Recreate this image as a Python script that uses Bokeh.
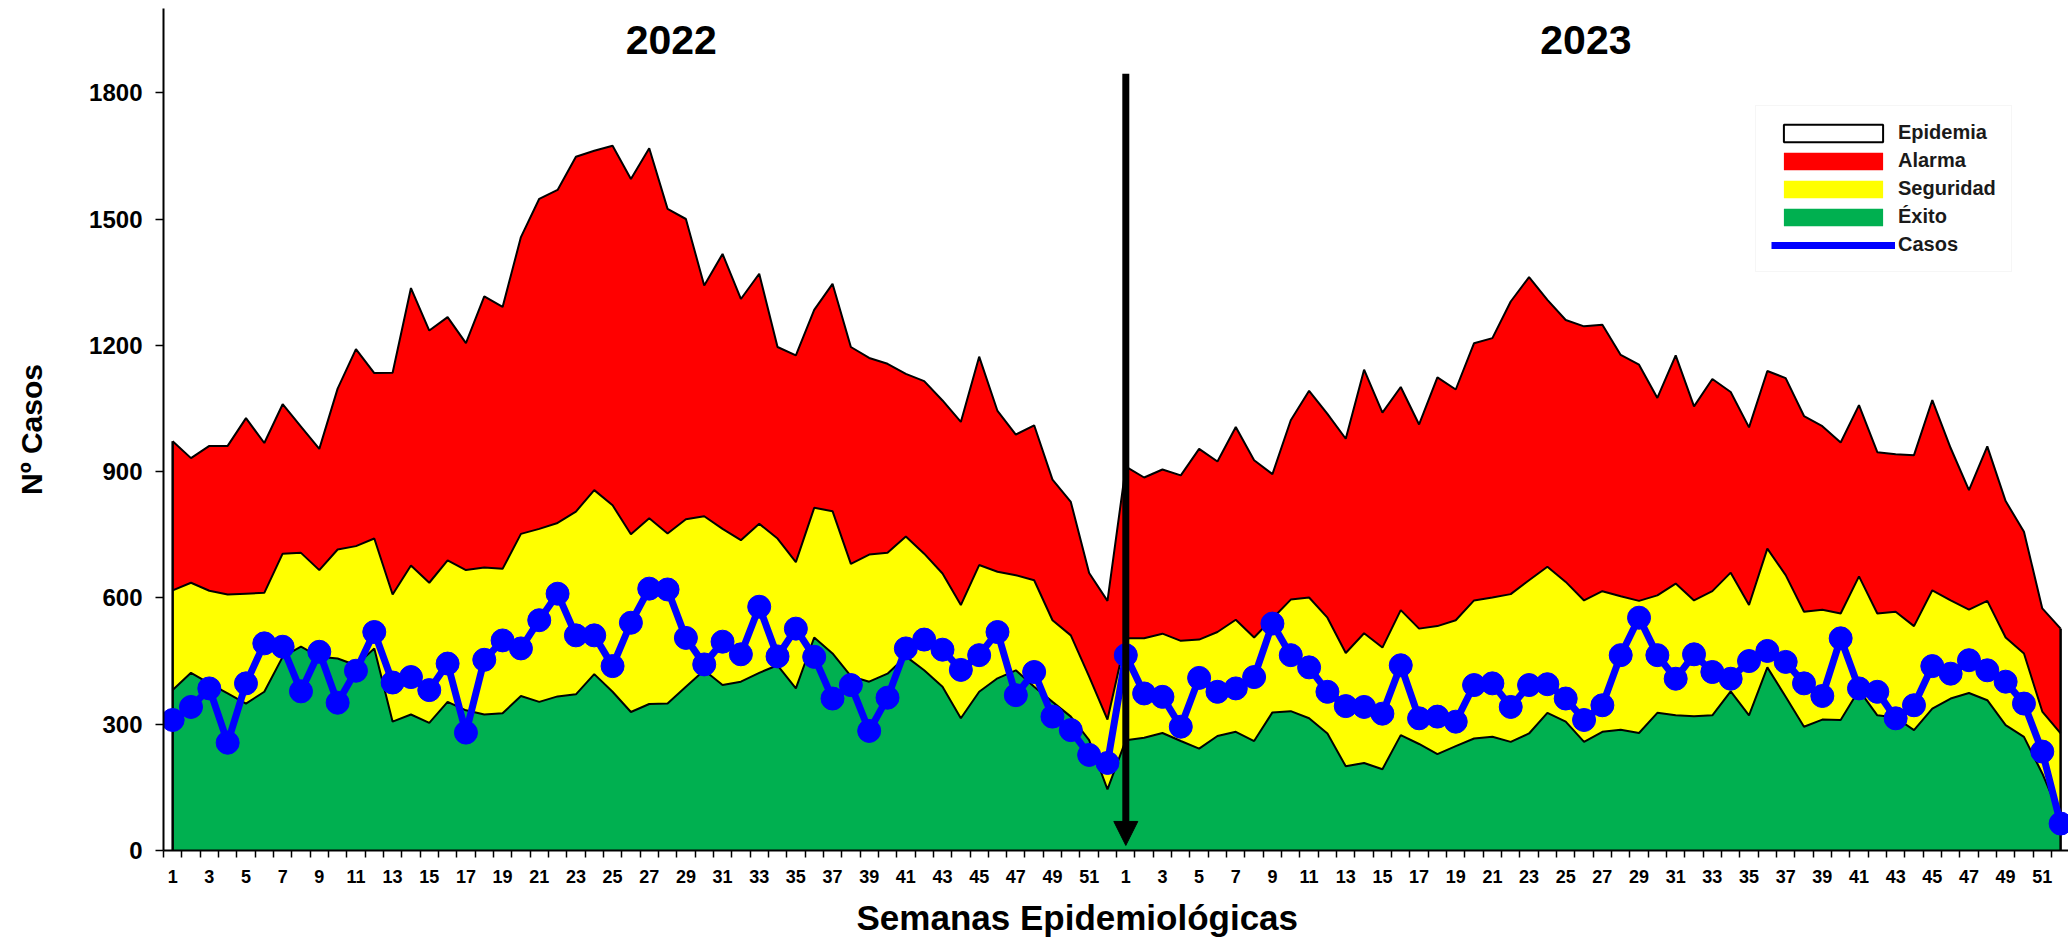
import math
from bokeh.plotting import figure
from bokeh.models import (ColumnDataSource, Range1d, FixedTicker, Legend, LegendItem,
                          Arrow, NormalHead, Title)
from bokeh.core.properties import value
from bokeh.embed import file_html
from bokeh.resources import INLINE

# ---------------- data ----------------
years = ["2022", "2023"]
weeks = list(range(1, 53))

alarma_2022 = [972, 932, 961, 961, 1027, 968, 1060, 1007, 954, 1097,
               1191, 1134, 1135, 1336, 1235, 1267, 1205, 1316, 1291, 1457,
               1548, 1569, 1648, 1662, 1674, 1595, 1668, 1524, 1500, 1342,
               1417, 1310, 1370, 1196, 1176, 1284, 1346, 1196, 1170, 1156,
               1132, 1115, 1069, 1018, 1173, 1044, 988, 1010, 881, 828,
               659, 593]
seguridad_2022 = [618, 636, 617, 608, 610, 612, 705, 707, 666, 715,
                  723, 741, 608, 677, 636, 689, 666, 672, 669, 752,
                  764, 778, 805, 856, 820, 751, 789, 753, 787, 794,
                  764, 737, 776, 741, 685, 814, 806, 681, 703, 707,
                  746, 705, 658, 583, 678, 662, 654, 642, 547, 511,
                  413, 311]
exito_2022 = [381, 422, 397, 373, 349, 377, 460, 484, 460, 456,
              440, 480, 306, 323, 303, 353, 333, 323, 326, 367,
              353, 366, 371, 419, 377, 329, 348, 349, 389, 428,
              393, 401, 422, 440, 385, 506, 468, 414, 401, 420,
              461, 428, 389, 314, 377, 409, 428, 389, 353, 318,
              262, 145]
casos_2022 = [310, 341, 385, 256, 397, 492, 484, 378, 472, 351,
              427, 519, 399, 412, 381, 444, 280, 453, 499, 480,
              547, 610, 511, 511, 438, 541, 622, 620, 505, 442,
              496, 466, 579, 461, 527, 460, 361, 393, 284, 363,
              480, 501, 477, 429, 464, 519, 369, 424, 318, 286,
              227, 208]

alarma_2023 = [912, 886, 905, 891, 954, 924, 1006, 927, 894, 1022,
               1092, 1037, 978, 1142, 1040, 1101, 1012, 1124, 1095, 1205,
               1217, 1304, 1362, 1308, 1260, 1245, 1249, 1177, 1154, 1075,
               1176, 1055, 1120, 1089, 1005, 1139, 1122, 1032, 1008, 969,
               1058, 946, 941, 939, 1070, 956, 856, 960, 830, 757,
               575, 527]
seguridad_2023 = [504, 504, 515, 498, 501, 519, 548, 506, 551, 596,
                  601, 553, 469, 516, 482, 571, 527, 533, 547, 594,
                  601, 609, 642, 674, 638, 594, 616, 604, 593, 606,
                  634, 594, 616, 660, 583, 717, 654, 567, 572, 563,
                  651, 563, 567, 533, 618, 594, 572, 593, 506, 468,
                  330, 278]
exito_2023 = [262, 268, 279, 260, 242, 272, 282, 260, 328, 331,
              314, 278, 200, 208, 193, 274, 253, 229, 248, 266,
              270, 258, 278, 327, 306, 258, 282, 287, 279, 327,
              321, 319, 321, 378, 321, 435, 365, 294, 311, 310,
              381, 321, 316, 286, 337, 361, 374, 357, 298, 270,
              183, 80]
casos_2023 = [464, 373, 365, 294, 410, 377, 385, 412, 539, 464,
              435, 377, 343, 341, 325, 440, 314, 318, 306, 393,
              397, 341, 393, 395, 361, 310, 345, 464, 553, 464,
              408, 466, 424, 408, 450, 474, 448, 397, 367, 504,
              385, 377, 314, 345, 438, 420, 452, 428, 401, 349,
              235, 64]

y_ticks = [0, 300, 600, 900, 1200, 1500, 1800]
legend_labels = ["Epidemia", "Alarma", "Seguridad", "Éxito", "Casos"]

# ---------------- derived ----------------
week_all = weeks + weeks
x = list(range(len(week_all)))
alarma = alarma_2022 + alarma_2023
seguridad = seguridad_2022 + seguridad_2023
exito = exito_2022 + exito_2023
casos = casos_2022 + casos_2023

src = ColumnDataSource(dict(x=x, alarma=alarma, seguridad=seguridad,
                            exito=exito, casos=casos))

GREEN = "#00B050"
YELLOW = "#FFFF00"
RED = "#FF0000"
BLUE = "#0000FF"
FONT = "Liberation Sans"

p = figure(width=2068, height=947,
           x_range=Range1d(-0.5, 103.43), y_range=Range1d(0, 2000),
           output_backend="svg", toolbar_location=None,
           min_border_left=163, min_border_right=0,
           min_border_top=8, min_border_bottom=96)
p.outline_line_color = None
p.grid.visible = False

# areas
r_ex = p.varea(x="x", y1=0, y2="exito", source=src, fill_color=GREEN)
r_seg = p.varea(x="x", y1="exito", y2="seguridad", source=src, fill_color=YELLOW)
r_al = p.varea(x="x", y1="seguridad", y2="alarma", source=src, fill_color=RED)
for col in ["alarma", "seguridad", "exito"]:
    p.line(x="x", y=col, source=src, line_color="black", line_width=2)
p.segment(x0=[x[0], x[-1]], y0=[0, 0], x1=[x[0], x[-1]], y1=[alarma[0], alarma[-1]],
          line_color="black", line_width=2.5)

# Epidemia: white zone above Alarma; degenerate box sitting on the outline, used for the legend key
r_epi = p.quad(left=[x[0]], right=[x[0]], bottom=[alarma[0]], top=[alarma[0]],
               fill_color="white", line_color="black", line_width=2)

# separation arrow at first week of 2023
split = len(weeks)
arrow = Arrow(end=NormalHead(size=24, fill_color="black", line_color="black"),
              x_start=x[split], y_start=1845, x_end=x[split], y_end=12,
              line_color="black", line_width=7)
p.add_layout(arrow)

# cases line
r_cas = p.line(x="x", y="casos", source=src, line_color=BLUE, line_width=7)
p.scatter(x="x", y="casos", source=src, size=23, fill_color=BLUE, line_color=BLUE)

# year titles
year_x = [27.2, 77.1]
year_y = [1924, 1924]
p.text(x=year_x, y=year_y, text=years, text_font=value(FONT), text_font_style="bold",
       text_font_size="41px", text_align="center", text_baseline="middle",
       text_color="black")

# axes
p.yaxis.ticker = FixedTicker(ticks=y_ticks)
p.yaxis.axis_line_width = 2
p.yaxis.axis_line_color = "black"
p.yaxis.major_tick_out = 8
p.yaxis.major_tick_in = 0
p.yaxis.major_tick_line_width = 1.5
p.yaxis.minor_tick_line_color = None
p.yaxis.major_label_standoff = 13
p.yaxis.major_label_text_font = FONT
p.yaxis.major_label_text_font_style = "bold"
p.yaxis.major_label_text_font_size = "24px"
p.yaxis.major_label_text_color = "black"
p.yaxis.axis_label = "Nº Casos"
p.yaxis.axis_label_standoff = 38
p.yaxis.axis_label_text_font = FONT
p.yaxis.axis_label_text_font_style = "bold"
p.yaxis.axis_label_text_font_size = "30px"
p.yaxis.axis_label_text_color = "black"

label_pos = [i for i in x if week_all[i] % 2 == 1]
p.xaxis.ticker = FixedTicker(ticks=label_pos, minor_ticks=[i - 0.5 for i in range(len(x) + 1)])
p.xaxis.major_label_overrides = {i: str(week_all[i]) for i in label_pos}
p.xaxis.axis_line_width = 2
p.xaxis.axis_line_color = "black"
p.xaxis.major_tick_line_color = None
p.xaxis.major_tick_out = 0
p.xaxis.major_tick_in = 0
p.xaxis.minor_tick_out = 7
p.xaxis.minor_tick_in = 0
p.xaxis.minor_tick_line_color = "black"
p.xaxis.minor_tick_line_width = 1.5
p.xaxis.major_label_standoff = 12
p.xaxis.major_label_text_font = FONT
p.xaxis.major_label_text_font_style = "bold"
p.xaxis.major_label_text_font_size = "18px"
p.xaxis.major_label_text_color = "black"

p.add_layout(Title(text="Semanas Epidemiológicas", align="left", offset=693,
                   standoff=21, text_font=FONT, text_font_style="bold",
                   text_font_size="35px", text_color="black"), "below")

legend = Legend(items=[LegendItem(label=legend_labels[0], renderers=[r_epi]),
                       LegendItem(label=legend_labels[1], renderers=[r_al]),
                       LegendItem(label=legend_labels[2], renderers=[r_seg]),
                       LegendItem(label=legend_labels[3], renderers=[r_ex]),
                       LegendItem(label=legend_labels[4], renderers=[r_cas])],
                location=(1592, 578))
legend.glyph_width = 124
legend.glyph_height = 22
legend.label_height = 23
legend.spacing = 5
legend.padding = 15
legend.margin = 0
legend.label_standoff = 3
legend.border_line_color = "#eeeeee"
legend.background_fill_color = "white"
legend.background_fill_alpha = 1
legend.label_text_font = FONT
legend.label_text_font_style = "bold"
legend.label_text_font_size = "20px"
legend.label_text_color = "#1a1a1a"
p.add_layout(legend)

open("out.html", "w").write(file_html(p, INLINE))
